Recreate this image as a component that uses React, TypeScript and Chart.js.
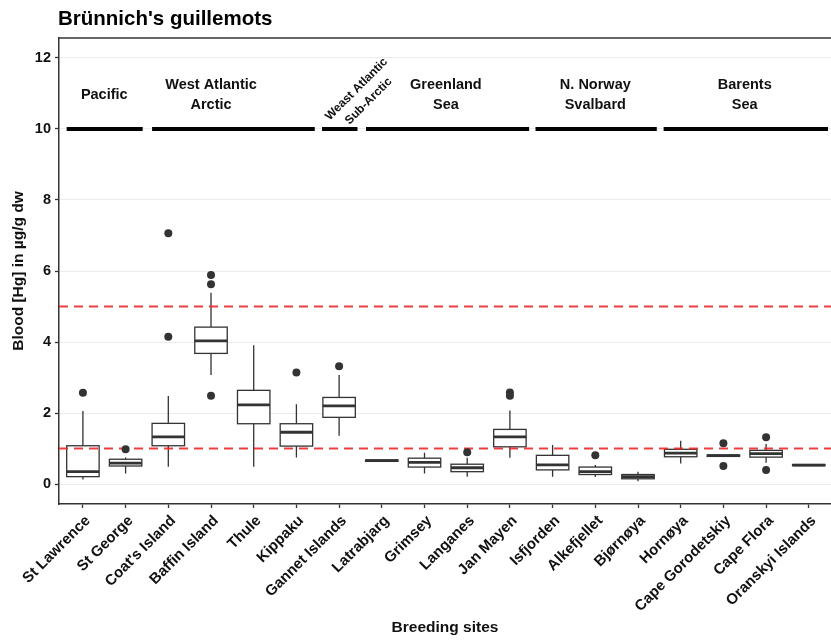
import React, { useEffect, useRef } from "react";
import { Chart, registerables } from "chart.js";

Chart.register(...registerables);

// ---------- data ----------
const sites = [
  "St Lawrence", "St George", "Coat's Island", "Baffin Island", "Thule", "Kippaku",
  "Gannet Islands", "Latrabjarg", "Grimsey", "Langanes", "Jan Mayen", "Isfjorden",
  "Alkefjellet", "Bjørnøya", "Hornøya", "Cape Gorodetskiy", "Cape Flora", "Oranskyi Islands",
];
const whiskerLow = [0.13, 0.30, 0.49, 3.07, 0.49, 0.75, 1.36, 0.64, 0.30, 0.21, 0.74, 0.21, 0.20, 0.08, 0.58, 0.78, 0.60, 0.52];
const q1 = [0.21, 0.51, 1.08, 3.68, 1.70, 1.07, 1.88, 0.64, 0.48, 0.35, 1.05, 0.40, 0.27, 0.15, 0.77, 0.78, 0.76, 0.52];
const median = [0.35, 0.59, 1.33, 4.03, 2.23, 1.46, 2.20, 0.66, 0.61, 0.46, 1.33, 0.54, 0.35, 0.21, 0.87, 0.80, 0.86, 0.535];
const q3 = [1.08, 0.70, 1.71, 4.42, 2.64, 1.70, 2.44, 0.68, 0.73, 0.56, 1.54, 0.81, 0.48, 0.27, 0.98, 0.82, 0.95, 0.55];
const whiskerHigh = [2.06, 0.75, 2.48, 5.39, 3.91, 2.25, 3.07, 0.68, 0.88, 0.74, 2.07, 1.10, 0.54, 0.35, 1.22, 0.82, 1.13, 0.55];
const outlierSite = [0, 1, 2, 2, 3, 3, 3, 5, 6, 9, 10, 10, 12, 15, 15, 16, 16];
const outlierValue = [2.57, 0.98, 7.06, 4.15, 5.89, 5.63, 2.49, 3.14, 3.32, 0.90, 2.58, 2.49, 0.81, 1.15, 0.51, 1.32, 0.40];

const yTicks = [0, 2, 4, 6, 8, 10, 12];
const thresholds = [1, 5];

const groupTitles = ["Pacific", "West Atlantic\nArctic", "Weast Atlantic\nSub-Arctic", "Greenland\nSea", "N. Norway\nSvalbard", "Barents\nSea"];
const groupStart = [-0.38, 1.62, 5.6, 6.63, 10.6, 13.6];
const groupEnd = [1.4, 5.43, 6.43, 10.45, 13.44, 17.45];
const groupLabelX = [0.5, 3.0, 6.55, 8.5, 12.0, 15.5];
const groupLabelY = [10.96, 10.96, 10.95, 10.96, 10.96, 10.96];
const groupLineY = 10;

const FONT = "'Liberation Sans', Arial, Helvetica, sans-serif";
const TEXT = "#111111";
const DARK = "#333333";

const boxPlugin = {
  id: "boxplots",
  beforeDatasetsDraw(chart: any) {
    const { ctx, chartArea, scales } = chart;
    const x = scales.x;
    const y = scales.y;
    ctx.save();
    ctx.beginPath();
    ctx.rect(chartArea.left, chartArea.top, chartArea.right - chartArea.left, chartArea.bottom - chartArea.top);
    ctx.clip();

    const half = x.getPixelForValue(0.38) - x.getPixelForValue(0);
    sites.forEach((_, i) => {
      const cx = x.getPixelForValue(i);
      const top = y.getPixelForValue(q3[i]);
      const bot = y.getPixelForValue(q1[i]);
      ctx.strokeStyle = DARK;
      ctx.lineWidth = 1.3;
      ctx.beginPath();
      ctx.moveTo(cx, top);
      ctx.lineTo(cx, y.getPixelForValue(whiskerHigh[i]));
      ctx.moveTo(cx, bot);
      ctx.lineTo(cx, y.getPixelForValue(whiskerLow[i]));
      ctx.stroke();
      ctx.fillStyle = "#ffffff";
      ctx.fillRect(cx - half, top, 2 * half, bot - top);
      ctx.strokeRect(cx - half, top, 2 * half, bot - top);
      const my = y.getPixelForValue(median[i]);
      ctx.lineWidth = 2.8;
      ctx.beginPath();
      ctx.moveTo(cx - half, my);
      ctx.lineTo(cx + half, my);
      ctx.stroke();
    });

    // group header segments
    ctx.strokeStyle = "#000000";
    ctx.lineWidth = 4;
    ctx.lineCap = "butt";
    const gy = y.getPixelForValue(groupLineY);
    groupTitles.forEach((_, g) => {
      ctx.beginPath();
      ctx.moveTo(x.getPixelForValue(groupStart[g]), gy);
      ctx.lineTo(x.getPixelForValue(groupEnd[g]), gy);
      ctx.stroke();
    });

    // group labels
    ctx.fillStyle = TEXT;
    ctx.textAlign = "center";
    ctx.textBaseline = "middle";
    groupTitles.forEach((t, g) => {
      const lines = t.split("\n");
      const px = x.getPixelForValue(groupLabelX[g]);
      const py = y.getPixelForValue(groupLabelY[g]);
      ctx.save();
      ctx.translate(px, py);
      let spacing = 20;
      if (g === 2) {
        ctx.rotate(-Math.PI / 4);
        ctx.font = `bold 12px ${FONT}`;
        spacing = 17;
      } else {
        ctx.font = `bold 14.5px ${FONT}`;
      }
      lines.forEach((ln, k) => {
        const off = (k - (lines.length - 1) / 2) * spacing;
        ctx.fillText(ln, 0, off);
      });
      ctx.restore();
    });

    // threshold lines
    ctx.strokeStyle = "rgba(238, 40, 40, 0.9)";
    ctx.lineWidth = 2;
    ctx.setLineDash([9, 6]);
    thresholds.forEach((v) => {
      const py = y.getPixelForValue(v);
      ctx.beginPath();
      ctx.moveTo(chartArea.left, py);
      ctx.lineTo(chartArea.right, py);
      ctx.stroke();
    });
    ctx.setLineDash([]);
    ctx.restore();
  },
  afterDraw(chart: any) {
    const { ctx, chartArea } = chart;
    ctx.save();
    ctx.strokeStyle = DARK;
    ctx.lineWidth = 1.5;
    ctx.beginPath();
    ctx.moveTo(chartArea.left, chartArea.top);
    ctx.lineTo(chartArea.right, chartArea.top);
    ctx.stroke();
    ctx.fillStyle = "#000000";
    ctx.font = `bold 20.5px ${FONT}`;
    ctx.textAlign = "left";
    ctx.textBaseline = "alphabetic";
    ctx.fillText("Brünnich's guillemots", 58, 25);
    ctx.restore();
  },
};

export default function App() {
  const ref = useRef<HTMLCanvasElement | null>(null);
  useEffect(() => {
    if (!ref.current) return;
    const chart = new Chart(ref.current, {
      type: "scatter",
      data: {
        datasets: [
          {
            label: "outliers",
            data: outlierSite.map((s, i) => ({ x: s, y: outlierValue[i] })),
            pointRadius: 4,
            pointHoverRadius: 4,
            backgroundColor: DARK,
            borderWidth: 0,
          },
        ],
      },
      options: {
        responsive: false,
        animation: false,
        devicePixelRatio: 1,
        layout: { autoPadding: false, padding: { top: 38, left: 0, right: 0, bottom: 0 } },
        plugins: { legend: { display: false }, tooltip: { enabled: false }, title: { display: false } },
        scales: {
          x: {
            type: "linear",
            min: -0.56,
            max: 17.52,
            afterBuildTicks: (s: any) => {
              s.ticks = sites.map((_, i) => ({ value: i }));
            },
            afterFit: (s: any) => {
              s.height = 136;
              s.paddingRight = 0;
              s.paddingLeft = 0;
            },
            ticks: {
              autoSkip: false,
              minRotation: 45,
              maxRotation: 45,
              padding: 4,
              labelOffset: 5,
              color: TEXT,
              font: { family: FONT, size: 15, weight: "bold" },
              callback: (_v: any, i: number) => sites[i],
            },
            grid: { drawOnChartArea: false, tickLength: 4, tickColor: DARK, tickWidth: 1.3 },
            border: { color: DARK, width: 1.5 },
            title: {
              display: true,
              text: "Breeding sites",
              color: TEXT,
              font: { family: FONT, size: 15.5, weight: "bold" },
              padding: { top: 0, bottom: 3 },
            },
          },
          y: {
            min: -0.56,
            max: 12.56,
            afterBuildTicks: (s: any) => {
              s.ticks = yTicks.map((v) => ({ value: v }));
            },
            afterFit: (s: any) => {
              s.width = 59;
            },
            ticks: {
              padding: 4,
              color: TEXT,
              font: { family: FONT, size: 14.5, weight: "bold" },
            },
            grid: { color: "#ebebeb", lineWidth: 1, tickLength: 4, tickColor: DARK, tickWidth: 1.3 },
            border: { color: DARK, width: 1.5 },
            title: {
              display: true,
              text: "Blood [Hg] in µg/g dw",
              color: TEXT,
              font: { family: FONT, size: 15.5, weight: "bold" },
              padding: { top: 9, bottom: 0 },
            },
          },
        },
      },
      plugins: [boxPlugin],
    });
    return () => chart.destroy();
  }, []);
  return (
    <div style={{ position: "absolute", left: 0, top: 0, width: 831, height: 640, background: "#fff" }}>
      <canvas ref={ref} width={831} height={640} />
    </div>
  );
}
